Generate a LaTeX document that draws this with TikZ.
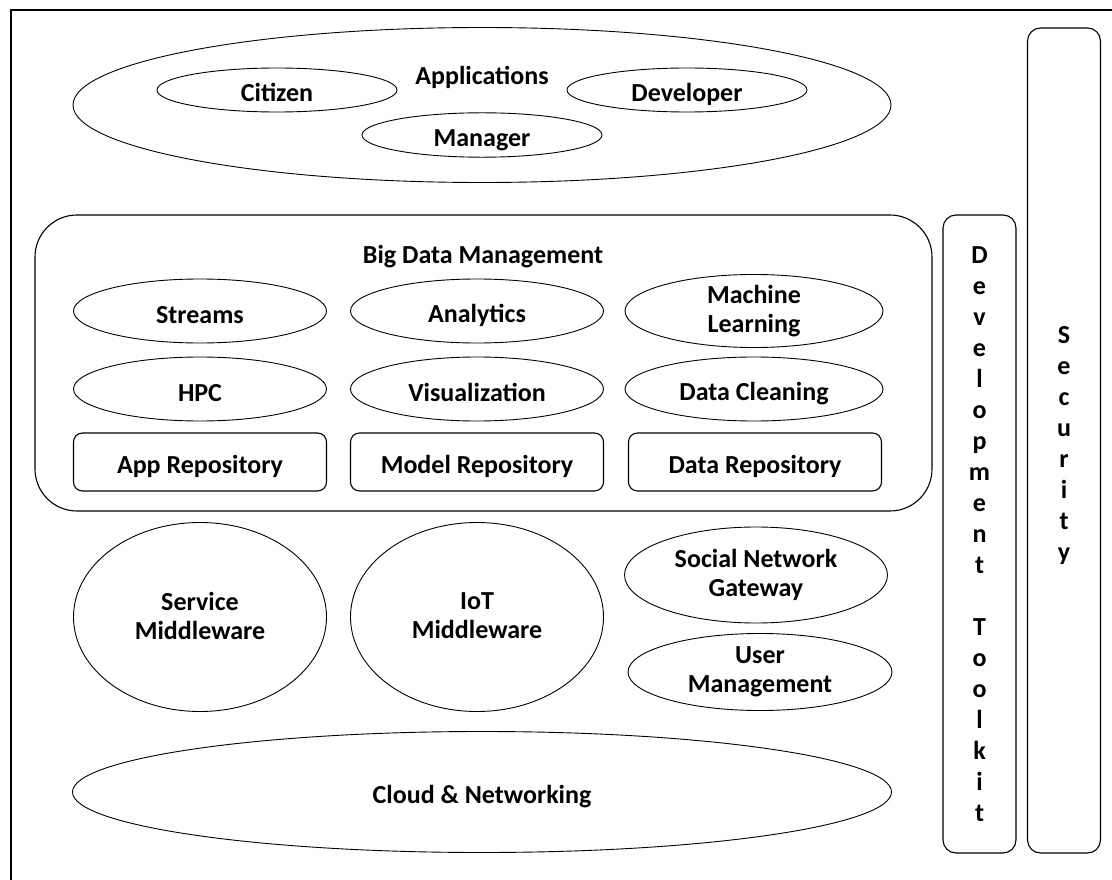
\documentclass[tikz,border=0pt]{standalone}
\usepackage{fontspec}
\setmainfont{Carlito}
\usetikzlibrary{shapes.geometric}
\newcommand\tstrut{\rule[-3pt]{0pt}{30pt}}

\begin{document}
\begin{tikzpicture}[x=1pt, y=-1pt,
	every node/.style={font=\bfseries\fontsize{26}{29}\selectfont, align=center, inner sep=0pt,
		execute at begin node=\tstrut, execute at end node=\tstrut},
	blob/.style={draw, ellipse, line width=0.9pt},
	repo/.style={draw, rounded corners=9pt, line width=1.1pt, minimum width=253pt, minimum height=58pt},
	pillar/.style={draw, rounded corners=13pt, line width=1.1pt, minimum width=73pt},
	tall/.style={font=\bfseries\fontsize{26}{31}\selectfont}]
	%    frame is cut by the page edge
	\clip (0,0) rectangle (1112,880);
	\draw[line width=2pt] (11,10) rectangle (1140,900);

	% applications
	\node[blob, minimum width=818pt, minimum height=155pt] (apps) at (482,105) {};
	\node (appstitle) at (482,73) {Applications};
	\node[blob, minimum width=240pt, minimum height=44pt] (citizen) at (277,90) {Citizen};
	\node[blob, minimum width=240pt, minimum height=44pt] (developer) at (687,90) {Developer};
	\node[blob, minimum width=240pt, minimum height=44pt] (manager) at (482,135) {Manager};

	% big data
	\node[draw, rounded corners=42pt, line width=1.1pt, minimum width=897pt, minimum height=296pt] (bigdata) at (483.5,363) {};
	\node (bigdatatitle) at (483,252) {Big Data Management};
	\node[blob, minimum width=253pt, minimum height=64pt] (streams) at (200,311) {Streams};
	\node[blob, minimum width=253pt, minimum height=64pt] (analytics) at (477,311) {Analytics};
	\node[blob, minimum width=258pt, minimum height=64pt] (ml) at (754,311) {Machine\\Learning};
	\node[blob, minimum width=253pt, minimum height=64pt] (hpc) at (200,389) {HPC};
	\node[blob, minimum width=253pt, minimum height=64pt] (visual) at (477,389) {Visualization};
	\node[blob, minimum width=258pt, minimum height=64pt] (cleaning) at (754,389) {Data Cleaning};
	\node[repo] (apprepo) at (200,462) {App Repository};
	\node[repo] (modelrepo) at (477,462) {Model Repository};
	\node[repo] (datarepo) at (755,462) {Data Repository};

	% middleware
	\node[blob, minimum width=253pt, minimum height=189pt] (service) at (200,617) {Service\\Middleware};
	\node[blob, minimum width=253pt, minimum height=189pt] (iot) at (477,617) {IoT\\Middleware};
	\node[blob, minimum width=263pt, minimum height=96pt] (social) at (756,575) {Social Network\\Gateway};
	\node[blob, minimum width=264pt, minimum height=77pt] (users) at (760,672) {User\\Management};
	\node[blob, minimum width=819pt, minimum height=121pt] (cloud) at (482,792) {Cloud \& Networking};

	% side pillars
	\node[pillar, minimum height=638pt] (toolkit) at (979.5,534) {};
	\node[tall] (toolkittxt) at (979.5,536) {D\\e\\v\\e\\l\\o\\p\\m\\e\\n\\t\\[31pt]T\\o\\o\\l\\k\\i\\t};
	\node[pillar, minimum height=825pt] (security) at (1064,440.5) {};
	\node[tall] (securitytxt) at (1064,446) {S\\e\\c\\u\\r\\i\\t\\y};

\end{tikzpicture}
\end{document}
